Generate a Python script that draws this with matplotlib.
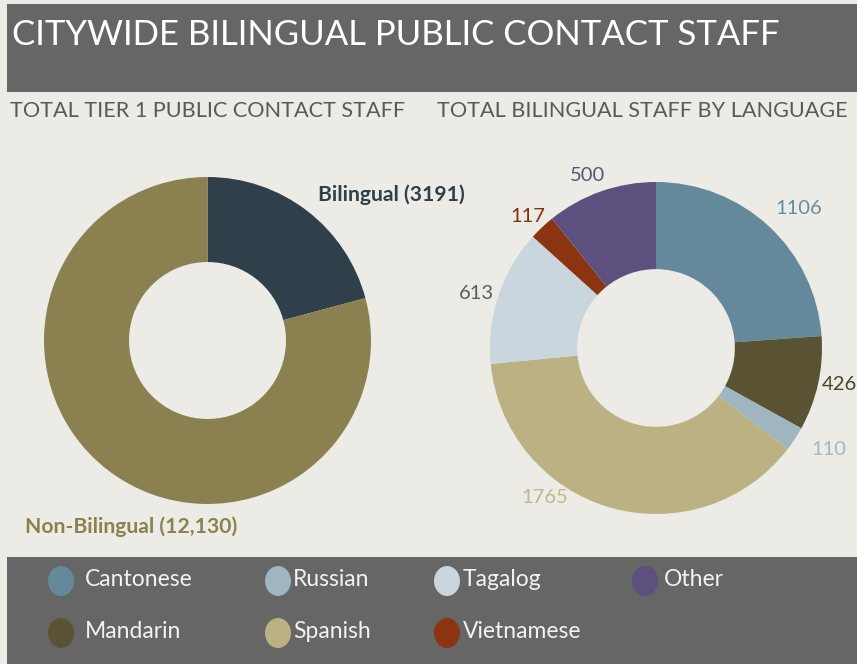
import matplotlib
matplotlib.use("Agg")
import matplotlib.pyplot as plt
from matplotlib.patches import Rectangle, Ellipse

# ---- data -------------------------------------------------------------
tier_labels = ["Bilingual", "Non-Bilingual"]
tier_values = [3191, 12130]
tier_colors = ["#2f404b", "#8b8150"]

languages = ["Cantonese", "Mandarin", "Russian", "Spanish", "Tagalog", "Vietnamese", "Other"]
lang_values = [1106, 426, 110, 1765, 613, 117, 500]
lang_colors = ["#64899b", "#5a5333", "#9fb5c0", "#bbb183", "#c9d6de", "#8a3510", "#5d4f7e"]
lang_label_colors = ["#6a8d9e", "#4a4428", "#a2b9c4", "#c2b88c", "#5c5c5c", "#7f3210", "#5d5275"]

legend_rows = [["Cantonese", "Russian", "Tagalog", "Other"],
               ["Mandarin", "Spanish", "Vietnamese"]]

title = "CITYWIDE BILINGUAL PUBLIC CONTACT STAFF"
left_subtitle = "TOTAL TIER 1 PUBLIC CONTACT STAFF"
right_subtitle = "TOTAL BILINGUAL STAFF BY LANGUAGE"

# ---- layout (pixels) --------------------------------------------------
W, H = 857, 664
BG = "#ecebe6"
BAR = "#666666"
FONT = "Lato"

fig = plt.figure(figsize=(W / 100, H / 100), dpi=100, facecolor=BG)

base = fig.add_axes([0, 0, 1, 1])
base.set_xlim(0, W)
base.set_ylim(H, 0)
base.axis("off")
base.set_facecolor(BG)

# header and legend bands
base.add_patch(Rectangle((7, 4), W - 7, 88, color=BAR, lw=0))
base.add_patch(Rectangle((7, 557), W - 7, H - 557, color=BAR, lw=0))

base.text(12, 35, title, color="white", fontsize=25, family=FONT,
          va="center", ha="left")
base.text(10, 111, left_subtitle, color="#5a5a5a", fontsize=15.6, family=FONT,
          va="center", ha="left")
base.text(437, 111, right_subtitle, color="#5a5a5a", fontsize=15.6, family=FONT,
          va="center", ha="left")


def pie_axes(cx, cy, r):
    ax = fig.add_axes([(cx - r) / W, (H - cy - r) / H, 2 * r / W, 2 * r / H])
    ax.set_facecolor("none")
    return ax


# ---- left donut: tier 1 staff -----------------------------------------
axl = pie_axes(207.5, 340.5, 163.5)
axl.pie(tier_values, colors=tier_colors, startangle=90, counterclock=False,
        radius=1, wedgeprops=dict(width=0.52, linewidth=0))
axl.set_xlim(-1, 1)
axl.set_ylim(-1, 1)
axl.axis("off")

tier_text_pos = [(0.675, 0.89), (-1.115, -1.14)]
for name, val, col, (tx, ty) in zip(tier_labels, tier_values, tier_colors, tier_text_pos):
    axl.text(tx, ty, f"{name} ({val:,})" if val > 9999 else f"{name} ({val})",
             color=col, fontsize=15.2, family=FONT, weight="bold",
             ha="left", va="center")

# ---- right donut: bilingual staff by language --------------------------
axr = pie_axes(656, 348, 166)
axr.pie(lang_values, colors=lang_colors, startangle=90, counterclock=False,
        radius=1, wedgeprops=dict(width=0.525, linewidth=0))
axr.set_xlim(-1, 1)
axr.set_ylim(-1, 1)
axr.axis("off")

value_text_pos = [(0.86, 0.84, "center"), (1.0, -0.22, "left"), (1.04, -0.61, "center"),
                  (-0.67, -0.90, "center"), (-1.08, 0.33, "center"),
                  (-0.77, 0.79, "center"), (-0.41, 1.04, "center")]
for val, col, (tx, ty, ha) in zip(lang_values, lang_label_colors, value_text_pos):
    axr.text(tx, ty, str(val), color=col, fontsize=14.5, family=FONT,
             ha=ha, va="center")

# ---- legend -----------------------------------------------------------
marker_x = [61, 278, 447, 645]
text_x = [85, 293, 463, 664]
row_y = [581, 633]
color_of = dict(zip(languages, lang_colors))
for r, row in enumerate(legend_rows):
    for c, name in enumerate(row):
        base.add_patch(Ellipse((marker_x[c], row_y[r]), 26, 30,
                               color=color_of[name], lw=0))
        base.text(text_x[c], row_y[r] - 1, name, color="#f2f2f2", fontsize=16.5,
                  family=FONT, ha="left", va="center")

fig.savefig("out.png", dpi=100, facecolor=BG)
